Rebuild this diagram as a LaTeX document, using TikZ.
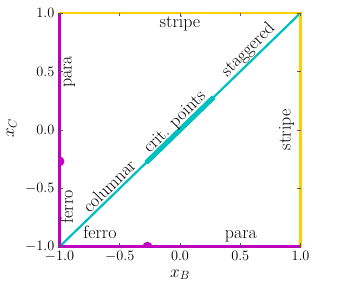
\documentclass[tikz,border=0pt]{standalone}
\definecolor{magc}{rgb}{0.75,0,0.75}
\definecolor{cyac}{rgb}{0,0.75,0.75}
\definecolor{golc}{RGB}{255,208,0}
\begin{document}
\begin{tikzpicture}[x=1bp,y=1bp,
  lab/.style={font=\fontsize{18}{21}\selectfont, inner sep=0pt},
  ticklab/.style={font=\fontsize{14.5}{17}\selectfont, inner sep=0pt},
  axlab/.style={font=\fontsize{17}{20}\selectfont, inner sep=0pt},
  magline/.style={draw=magc, line width=2.6bp},
  golline/.style={draw=golc, line width=2.6bp},
  cyaline/.style={draw=cyac, line width=2.2bp},
  cyathick/.style={draw=cyac, line width=5bp},
  tickmark/.style={draw=black!65, line width=0.6bp},
  dot/.style={circle, fill=magc, inner sep=0pt, minimum size=10bp}]
\useasboundingbox (0,0) rectangle (356,289);
\begin{scope}[shift={(180,159.15)}]
\begin{scope}[x=120.5bp,y=116.85bp]
  \coordinate (bl) at (-1,-1);
  \coordinate (br) at (1,-1);
  \coordinate (tl) at (-1,1);
  \coordinate (tr) at (1,1);
  \coordinate (c1) at (-0.28,-0.28);
  \coordinate (c2) at (0.28,0.28);
  \draw[cyaline] (bl) -- (tr);
  \draw[cyathick] (c1) -- (c2);
  \draw[golline] (tl) -- (tr) -- (br);
  \draw[magline] (br) -- (bl) -- (tl);
  \begin{scope}
    \clip (bl) rectangle (tr);
    \node[dot] (d1) at (-1,-0.27) {};
    \node[dot] (d2) at (-0.27,-1) {};
  \end{scope}
  \foreach \v/\t [count=\i] in {-1/$-1.0$,-0.5/$-0.5$,0/$0.0$,0.5/$0.5$,1/$1.0$}{
    \draw[tickmark] (\v,-1) -- ++(0,3.5bp);
    \draw[tickmark] (\v,1) -- ++(0,-3.5bp);
    \draw[tickmark] (-1,\v) -- ++(3.5bp,0);
    \draw[tickmark] (1,\v) -- ++(-3.5bp,0);
    \node[ticklab, anchor=east, xshift=-5bp] (yl\i) at (-1,\v) {\t};
    \node[ticklab, anchor=north, yshift=-4bp] (xl\i) at (\v,-1) {\t};
  }
  \node[lab, anchor=base] (stripetop) at (0,0.88) {stripe};
  \node[lab, rotate=90, anchor=base] (paraleft) at (-0.899,0.495) {para};
  \node[lab, rotate=90, anchor=base] (ferroleft) at (-0.888,-0.658) {ferro};
  \node[lab, anchor=base] (ferrobot) at (-0.664,-0.928) {ferro};
  \node[lab, anchor=base] (parabot) at (0.506,-0.928) {para};
  \node[lab, rotate=90, anchor=base] (striperight) at (0.919,0) {stripe};
  \node[lab, rotate=45] (columnar) at (-0.589,-0.48) {columnar};
  \node[lab, rotate=45] (crit) at (-0.04,0.06) {crit. points};
  \node[lab, rotate=45] (stag) at (0.568,0.683) {staggered};
\end{scope}
\end{scope}
\node[axlab] (xB) at (180,14) {$x_B$};
\node[axlab, rotate=90] (xC) at (11.7,161) {$x_C$};
\end{tikzpicture}
\end{document}
